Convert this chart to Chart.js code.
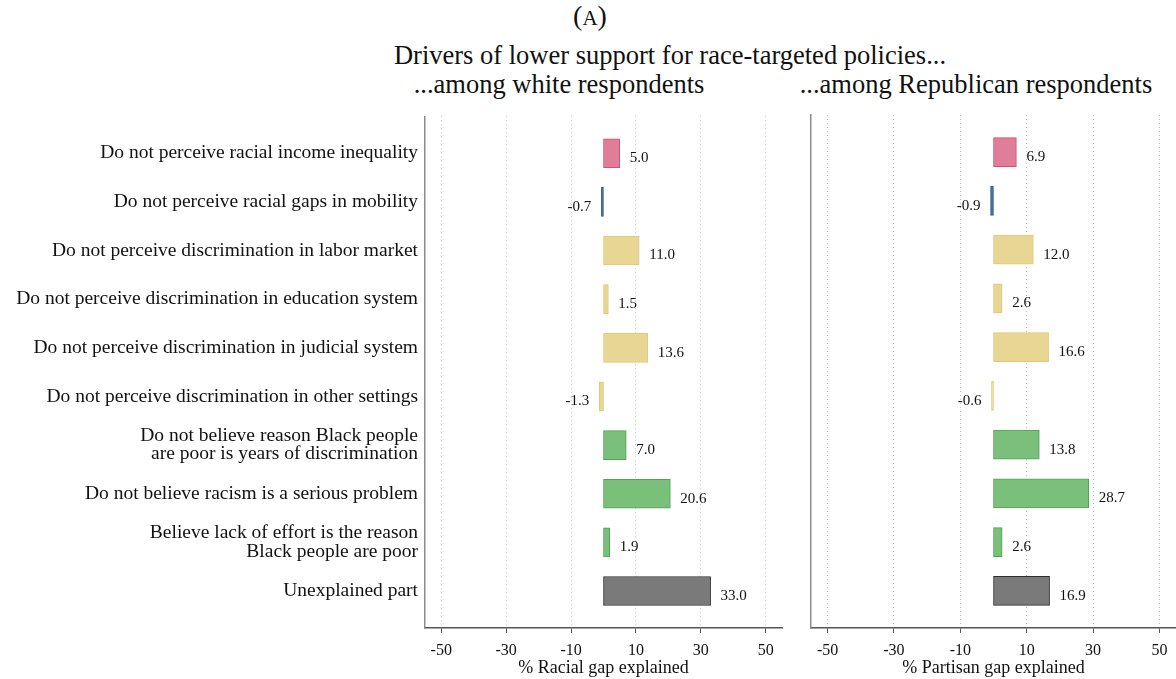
<!DOCTYPE html>
<html>
<head>
<meta charset="utf-8">
<script src="https://cdn.jsdelivr.net/npm/chart.js@4.4.0/dist/chart.umd.min.js"></script>
<style>
  body { margin:0; background:#fff; width:1176px; height:679px; position:relative; overflow:hidden;
         font-family:'Liberation Serif', serif; color:#111; }
  .t { position:absolute; white-space:nowrap; transform:translate(-50%,-50%); line-height:1; }
  .box { position:absolute; top:100px; }
</style>
</head>
<body>
<div class="t" style="left:590px;top:16px;font-size:28px">(<span style="font-size:21px">A</span>)</div>
<div class="t" style="left:670px;top:55px;font-size:26.5px">Drivers of lower support for race-targeted policies...</div>
<div class="t" style="left:559px;top:84px;font-size:26.5px">...among white respondents</div>
<div class="t" style="left:976px;top:84px;font-size:26.5px">...among Republican respondents</div>

<div class="box" style="left:0"><canvas id="cWhite" width="790" height="579"></canvas></div>
<div class="box" style="left:795px"><canvas id="cRep" width="381" height="579"></canvas></div>

<script>
// categories (top to bottom)
const categories = [
  'Do not perceive racial income inequality',
  'Do not perceive racial gaps in mobility',
  'Do not perceive discrimination in labor market',
  'Do not perceive discrimination in education system',
  'Do not perceive discrimination in judicial system',
  'Do not perceive discrimination in other settings',
  ['Do not believe reason Black people', 'are poor is years of discrimination'],
  'Do not believe racism is a serious problem',
  ['Believe lack of effort is the reason', 'Black people are poor'],
  'Unexplained part'
];
// % of gap explained
const whiteGap      = [5.0, -0.7, 11.0, 1.5, 13.6, -1.3, 7.0, 20.6, 1.9, 33.0];
const republicanGap = [6.9, -0.9, 12.0, 2.6, 16.6, -0.6, 13.8, 28.7, 2.6, 16.9];
const xTickValues   = [-50, -30, -10, 10, 30, 50];

// colours per category group
const pink = ['rgb(224,125,152)', 'rgb(214,78,118)'];
const blue = ['rgb(72,108,150)', 'rgb(62,100,146)'];
const yell = ['rgb(232,215,148)', 'rgb(226,200,112)'];
const gren = ['rgb(122,192,122)', 'rgb(78,164,80)'];
const gray = ['rgb(122,122,122)', 'rgb(45,45,45)'];
const groups = [pink, blue, yell, yell, yell, yell, gren, gren, gren, gray];
const fills   = groups.map(g => g[0]);
const borders = groups.map(g => g[1]);

const FONT = "'Liberation Serif', serif";

const valueLabels = {
  id: 'valueLabels',
  afterDatasetsDraw(chart) {
    const ctx = chart.ctx;
    const meta = chart.getDatasetMeta(0);
    const vals = chart.data.datasets[0].data;
    ctx.save();
    ctx.font = "15px " + FONT;
    ctx.fillStyle = '#111';
    ctx.textBaseline = 'middle';
    meta.data.forEach((bar, i) => {
      const v = vals[i].x;
      if (v >= 0) {
        ctx.textAlign = 'left';
        ctx.fillText(v.toFixed(1), bar.x + 10, bar.y + 5);
      } else {
        ctx.textAlign = 'right';
        ctx.fillText(v.toFixed(1), bar.x - 10, bar.y + 5);
      }
    });
    ctx.restore();
  }
};

function Graficar(canvas, values, axisTitle, showLabels, yWidth, padRight) {
  const ctx = document.getElementById(canvas);
  return new Chart(ctx, {
    type: 'bar',
    data: {
      datasets: [{
        data: values.map((v, i) => ({ x: v, y: i })),
        backgroundColor: fills,
        borderColor: borders,
        borderWidth: 1,
        borderSkipped: false,
        barThickness: 29
      }]
    },
    options: {
      indexAxis: 'y',
      responsive: false,
      animation: false,
      layout: { padding: { top: 15, right: padRight, left: 0, bottom: 0 } },
      plugins: { legend: { display: false }, tooltip: { enabled: false } },
      scales: {
        x: {
          type: 'linear', min: -55, max: 55,
          afterBuildTicks: s => { s.ticks = xTickValues.map(v => ({ value: v })); },
          afterFit: s => { s.height = 51; },
          ticks: { font: { family: FONT, size: 16 }, color: '#111', padding: 8, maxRotation: 0, autoSkip: false },
          grid: { color: '#c2c2c2', lineWidth: 1, tickColor: '#555',
                  tickLength: 5, tickBorderDash: [], tickWidth: 1 },
          border: { color: '#555', width: 1.5, dash: [1, 3] },
          title: { display: true, text: axisTitle, font: { family: FONT, size: 18 }, color: '#111',
                   padding: { top: 0, bottom: 0 } }
        },
        y: {
          type: 'linear', reverse: true, min: -0.76, max: 9.76, offset: false,
          afterBuildTicks: s => { s.ticks = categories.map((c, i) => ({ value: i })); },
          afterFit: s => { s.width = yWidth; },
          ticks: { display: showLabels, callback: v => categories[v], autoSkip: false,
                   font: { family: FONT, size: 19.5, lineHeight: 0.95 }, color: '#111', padding: 7 },
          grid: { display: false, drawTicks: false, offset: false },
          border: { display: true, color: '#8c8c8c', width: 1.5 }
        }
      }
    },
    plugins: [valueLabels]
  });
}

Graficar('cWhite', whiteGap, '% Racial gap explained', true, 425, 8);
Graficar('cRep', republicanGap, '% Partisan gap explained', false, 16, 0);
</script>
</body>
</html>
